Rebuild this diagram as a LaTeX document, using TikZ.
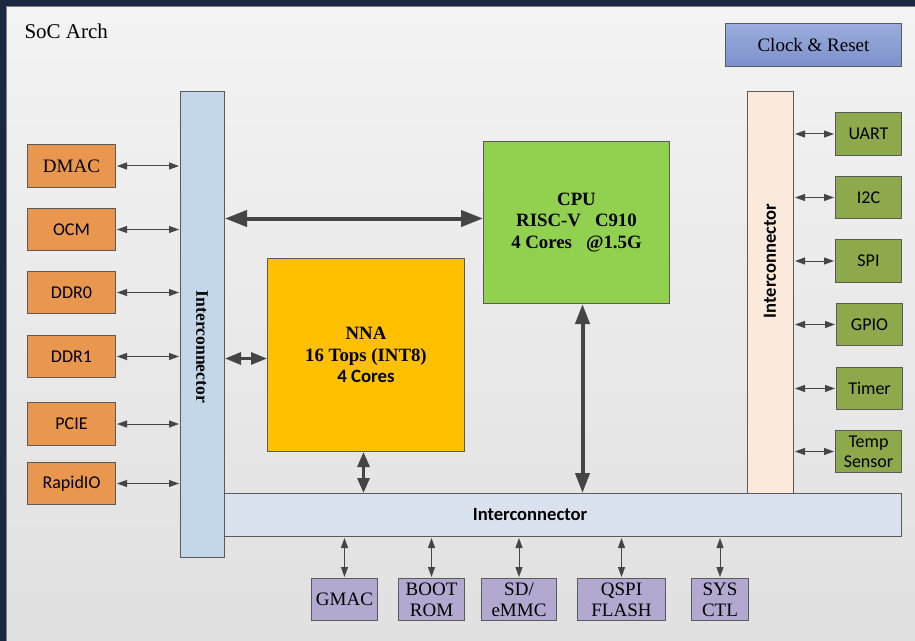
\documentclass[tikz,border=0pt]{standalone}
\usepackage{fontspec}
\setmainfont{Liberation Serif}
\newfontfamily\calfont{Carlito}
\usetikzlibrary{arrows.meta}
\definecolor{navybg}{HTML}{1C2742}
\definecolor{paneltop}{HTML}{F3F3F3}
\definecolor{panelbot}{HTML}{E0E0E0}
\definecolor{panelline}{HTML}{808080}
\definecolor{boxline}{HTML}{5A5A5A}
\definecolor{arrowgray}{HTML}{454545}
\definecolor{licncol}{HTML}{C3D7E9}
\definecolor{ricncol}{HTML}{FBE9DC}
\definecolor{bicncol}{HTML}{DAE1EF}
\definecolor{orangecol}{HTML}{E9974F}
\definecolor{greencol}{HTML}{8EA94B}
\definecolor{purplecol}{HTML}{B3A8CF}
\definecolor{cpucol}{HTML}{92D050}
\definecolor{nnacol}{HTML}{FFC000}
\definecolor{clktop}{HTML}{9AADDB}
\definecolor{clkbot}{HTML}{7D90CC}
\begin{document}
\begin{tikzpicture}[x=1bp,y=-1bp,
  every node/.style={font=\fontsize{19bp}{21bp}\selectfont},
  blk/.style={draw=boxline, line width=1bp, inner sep=0pt, align=center, anchor=north west},
  orbox/.style={blk, fill=orangecol, minimum width=88bp},
  grbox/.style={blk, fill=greencol, minimum width=66bp, font=\fontsize{18bp}{20bp}\selectfont\calfont},
  pubox/.style={blk, fill=purplecol, minimum height=42bp},
  slink/.style={{Triangle[length=10bp,width=7bp]}-{Triangle[length=10bp,width=7bp]}, line width=1bp, draw=arrowgray, fill=arrowgray, shorten <=1bp, shorten >=1bp},
  mlink/.style={{Triangle[length=16bp,width=12bp]}-{Triangle[length=16bp,width=12bp]}, line width=3bp, draw=arrowgray, fill=arrowgray},
  blink/.style={{Triangle[length=22bp,width=16bp]}-{Triangle[length=22bp,width=16bp]}, line width=4bp, draw=arrowgray, fill=arrowgray}
]
\useasboundingbox (0,0) rectangle (915,641);
\fill[navybg] (0,0) rectangle (915,641);
\shade[top color=paneltop, bottom color=panelbot, draw=panelline, line width=1bp] (6,7) rectangle (917,643);

\node[anchor=base west, font=\fontsize{21bp}{23bp}\selectfont] (title) at (21,39) {SoC Arch};

\node[blk, top color=clktop, bottom color=clkbot, minimum width=176bp, minimum height=43bp] (clk) at (725,23) {Clock \& Reset};

% interconnectors
\node[blk, fill=licncol, minimum width=44bp, minimum height=466bp] (licn) at (180,91) {};
\node[blk, fill=ricncol, minimum width=46bp, minimum height=402bp] (ricn) at (747,91) {};
\node[blk, fill=bicncol, minimum width=677bp, minimum height=43bp] (bicn) at (224,493) {};
\node[rotate=-90, font=\fontsize{17.6bp}{21bp}\selectfont\bfseries] (licnlbl) at (202,347) {Interconnector};
\node[rotate=90, font=\fontsize{18.6bp}{21bp}\selectfont\calfont\bfseries] (ricnlbl) at (770,261) {Interconnector};
\node[font=\fontsize{18.6bp}{21bp}\selectfont\calfont\bfseries] (bicnlbl) at (530,515) {Interconnector};

% CPU and NNA
\node[blk, fill=cpucol, minimum width=186bp, minimum height=162bp, font=\fontsize{18.8bp}{21.5bp}\selectfont\bfseries] (cpu) at (483,141) {CPU\\RISC-V\ \ \ C910\\4 Cores\ \ \ @1.5G};
\node[blk, fill=nnacol, minimum width=197bp, minimum height=193bp, font=\fontsize{18.8bp}{21.5bp}\selectfont\bfseries] (nna) at (267,258) {NNA\\16 Tops (INT8)\\{\calfont 4 Cores}};

% left peripherals
\node[orbox, minimum height=43bp] (dmac) at (27,144) {DMAC};
\node[orbox, minimum height=42bp, font=\fontsize{18bp}{21bp}\selectfont\calfont] (ocm) at (27,208) {OCM};
\node[orbox, minimum height=42bp, font=\fontsize{18bp}{21bp}\selectfont\calfont] (ddr0) at (27,271) {DDR0};
\node[orbox, minimum height=42bp, font=\fontsize{18bp}{21bp}\selectfont\calfont] (ddr1) at (27,335) {DDR1};
\node[orbox, minimum height=43bp, font=\fontsize{18bp}{21bp}\selectfont\calfont] (pcie) at (27,402) {PCIE};
\node[orbox, minimum height=42bp, font=\fontsize{18bp}{21bp}\selectfont\calfont] (rapid) at (27,462) {RapidIO};

% right peripherals
\node[grbox, minimum height=43bp] (uart) at (835,112) {UART};
\node[grbox, minimum height=42bp] (i2c) at (835,176) {I2C};
\node[grbox, minimum height=43bp] (spi) at (835,239) {SPI};
\node[grbox, minimum height=42bp] (gpio) at (836,303) {GPIO};
\node[grbox, minimum height=42bp] (timer) at (836,367) {Timer};
\node[grbox, minimum height=42bp] (temp) at (835,430) {Temp\\Sensor};

% bottom peripherals
\node[pubox, minimum width=66bp] (gmac) at (311,578) {GMAC};
\node[pubox, minimum width=66bp] (boot) at (398,578) {BOOT\\ROM};
\node[pubox, minimum width=75bp] (sd) at (481,578) {SD/\\eMMC};
\node[pubox, minimum width=88bp] (qspi) at (577,578) {QSPI\\FLASH};
\node[pubox, minimum width=57bp] (sys) at (691,578) {SYS\\ CTL};

% links left
\foreach \n in {dmac,ocm,ddr0,ddr1,pcie,rapid}
  \draw[slink] (\n.east) -- (licn.west |- \n.east);
% links right
\foreach \n in {uart,i2c,spi,gpio,timer,temp}
  \draw[slink] (ricn.east |- \n.west) -- (\n.west);
% links bottom
\foreach \n in {gmac,boot,sd,qspi,sys}
  \draw[slink] (bicn.south -| \n.north) -- (\n.north);

% big links
\coordinate (cpuw) at ([yshift=4bp]cpu.west);
\coordinate (nnaw) at ([yshift=-3.5bp]nna.west);
\coordinate (nnas) at ([xshift=-2.5bp]nna.south);
\coordinate (cpus) at ([xshift=6bp]cpu.south);
\draw[blink] (licn.east |- cpuw) -- (cpuw);
\draw[mlink] (licn.east |- nnaw) -- (nnaw);
\draw[mlink, {Triangle[length=15bp,width=12bp]}-{Triangle[length=15bp,width=12bp]}] (nnas) -- (bicn.north -| nnas);
\draw[blink, {Triangle[length=20bp,width=14bp]}-{Triangle[length=20bp,width=14bp]}] (cpus) -- (bicn.north -| cpus);
\end{tikzpicture}
\end{document}
